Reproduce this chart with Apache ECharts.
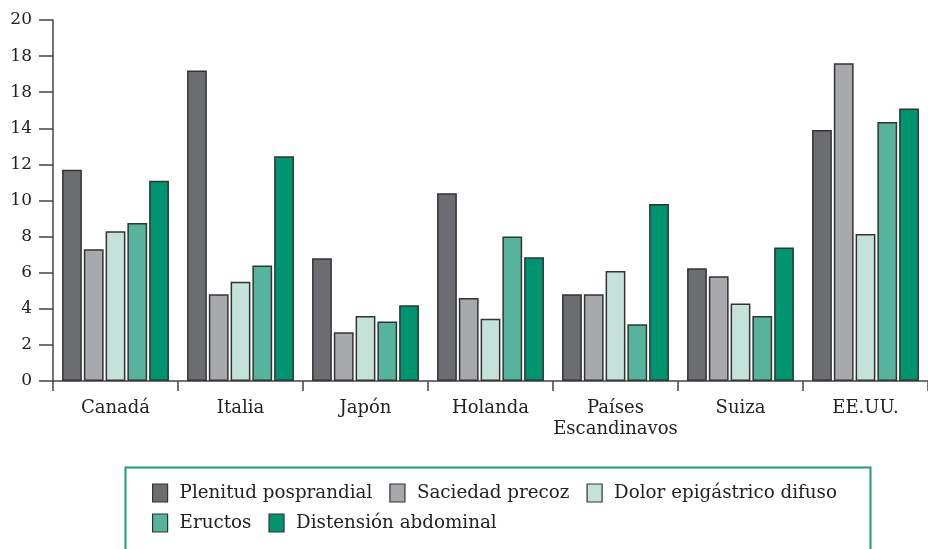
<!DOCTYPE html>
<html>
<head>
<meta charset="utf-8">
<script src="https://cdn.jsdelivr.net/npm/echarts@6/dist/echarts.min.js"></script>
<style>
html,body{margin:0;padding:0;background:#fff;}
#chart{width:928px;height:549px;}
</style>
</head>
<body>
<div id="chart"></div>
<script>
const categories = ['Canadá', 'Italia', 'Japón', 'Holanda', 'Países\nEscandinavos', 'Suiza', 'EE.UU.'];
const seriesNames = ['Plenitud posprandial', 'Saciedad precoz', 'Dolor epigástrico difuso', 'Eructos', 'Distensión abdominal'];
const plenitud   = [11.7, 17.2, 6.8, 10.4, 4.8, 6.25, 13.9];
const saciedad   = [7.3, 4.8, 2.7, 4.6, 4.8, 5.8, 17.6];
const dolor      = [8.3, 5.5, 3.6, 3.45, 6.1, 4.3, 8.15];
const eructos    = [8.75, 6.4, 3.3, 8.0, 3.15, 3.6, 14.35];
const distension = [11.1, 12.45, 4.2, 6.85, 9.8, 7.4, 15.1];
const yTickLabels = ['0', '2', '4', '6', '8', '10', '12', '14', '18', '18', '20'];
const colors = ['#6c6d71', '#a8a9ad', '#c5e2da', '#56b49d', '#009470'];
const seriesData = [plenitud, saciedad, dolor, eructos, distension];

const FONT = '"DejaVu Serif", serif';
const chart = echarts.init(document.getElementById('chart'), null, {renderer: 'canvas'});

chart.setOption({
  animation: false,
  backgroundColor: '#fff',
  color: colors,
  grid: {left: 53, top: 20, width: 884, height: 361, containLabel: false},
  graphic: [{
    type: 'rect',
    left: 123, top: 465,
    shape: {width: 745, height: 100},
    style: {fill: 'none', stroke: '#1f9c77', lineWidth: 2}
  }],
  legend: {
    left: 147, top: 478,
    width: 710,
    itemWidth: 15, itemHeight: 18,
    itemGap: 10,
    icon: 'rect',
    itemStyle: {borderColor: '#333', borderWidth: 1.2},
    textStyle: {fontFamily: FONT, fontSize: 18.3, color: '#222', lineHeight: 20, padding: [0, 7, 0, 7]},
    data: seriesNames
  },
  xAxis: {
    type: 'category',
    data: categories,
    axisLine: {lineStyle: {color: '#444', width: 1.5}},
    axisTick: {show: true, length: 10, lineStyle: {color: '#444', width: 1.5}},
    axisLabel: {fontFamily: FONT, fontSize: 18, color: '#222', margin: 17, lineHeight: 21, interval: 0}
  },
  yAxis: {
    type: 'value',
    min: 0, max: 20, interval: 2,
    axisLine: {show: true, lineStyle: {color: '#444', width: 1.5}},
    axisTick: {show: true, length: 14, lineStyle: {color: '#444', width: 1.5}},
    splitLine: {show: false},
    axisLabel: {
      fontFamily: FONT, fontSize: 17, color: '#222', margin: 21,
      formatter: function (v) { return yTickLabels[Math.round(v / 2)]; }
    }
  },
  series: seriesNames.map(function (name, i) {
    return {
      name: name,
      type: 'bar',
      data: seriesData[i],
      barGap: '10%',
      barCategoryGap: '14.5%',
      itemStyle: {color: colors[i], borderColor: '#333', borderWidth: 1.5}
    };
  })
});
</script>
</body>
</html>
